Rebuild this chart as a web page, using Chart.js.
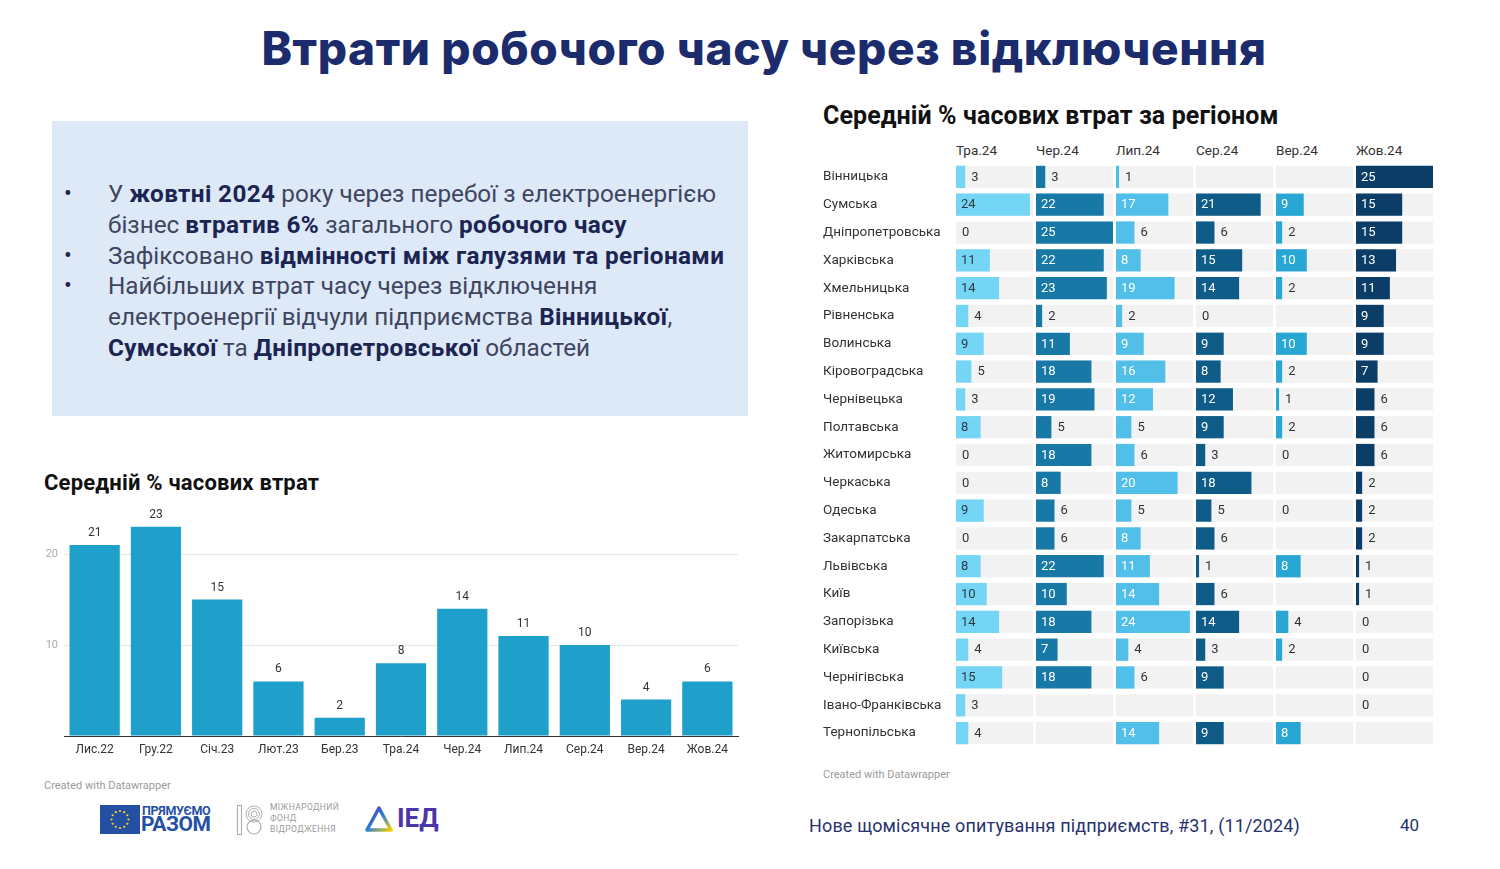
<!DOCTYPE html>
<html>
<head>
<meta charset="utf-8">
<script src="https://cdn.jsdelivr.net/npm/chart.js@4.4.1/dist/chart.umd.min.js"></script>
<style>
  html,body{margin:0;padding:0;background:#fff;}
  body{width:1500px;height:869px;position:relative;overflow:hidden;font-family:Roboto,"Noto Sans",sans-serif;}
  .abs{position:absolute;}
  #mainTitle{left:0;width:1528px;top:20px;text-align:center;font-family:Inter,"Open Sans",sans-serif;font-weight:800;font-size:46px;color:#1b2b6c;letter-spacing:0.6px;white-space:nowrap;}
  #box{left:52px;top:121px;width:696px;height:295px;background:#dde9f7;}
  .line{position:absolute;left:108px;font-size:24.3px;color:#3f4560;white-space:nowrap;line-height:31px;}
  .line b{color:#1c2452;font-weight:700;letter-spacing:0.35px;}
  .bullet{position:absolute;left:64px;font-size:23px;color:#1c2452;line-height:31px;}
  .ctitle{font-weight:700;color:#111;white-space:nowrap;}
  .mhead{position:absolute;top:142px;font-size:13.5px;color:#333;}
  .credit{font-size:11px;color:#9a9a9a;}
</style>
</head>
<body>
<div id="mainTitle" class="abs">Втрати робочого часу через відключення</div>

<div id="box" class="abs"></div>
<div class="bullet" style="top:178px">•</div>
<div class="line" style="top:178px">У <b>жовтні 2024</b> року через перебої з електроенергією</div>
<div class="line" style="top:209px">бізнес <b>втратив 6%</b> загального <b>робочого часу</b></div>
<div class="bullet" style="top:240px">•</div>
<div class="line" style="top:240px">Зафіксовано <b>відмінності між галузями та регіонами</b></div>
<div class="bullet" style="top:270px">•</div>
<div class="line" style="top:270px">Найбільших втрат часу через відключення</div>
<div class="line" style="top:301px">електроенергії відчули підприємства <b>Вінницької</b>,</div>
<div class="line" style="top:332px"><b>Сумської</b> та <b>Дніпропетровської</b> областей</div>

<div class="abs ctitle" style="left:44px;top:470px;font-size:22px;letter-spacing:0.2px;">Середній % часових втрат</div>
<div class="abs" style="left:40px;top:496px;width:705px;height:270px;"><canvas id="leftChart" width="705" height="270"></canvas></div>
<div class="abs credit" style="left:44px;top:779px;">Created with Datawrapper</div>

<div class="abs ctitle" style="left:823px;top:101px;font-size:25px;letter-spacing:0.1px;">Середній % часових втрат за регіоном</div>
<div id="heads"></div>
<div id="cols"></div>
<div class="abs credit" style="left:823px;top:768px;">Created with Datawrapper</div>

<!-- logos -->
<svg class="abs" style="left:100px;top:805px" width="40" height="29" viewBox="0 0 40 29">
  <rect x="0" y="0" width="40" height="29" fill="#2450a4"/>
  <g fill="#ffd617" id="stars"></g>
</svg>
<div class="abs" style="left:142px;top:805px;font-size:12.5px;line-height:12px;font-weight:700;color:#2450a4;letter-spacing:-0.3px;">ПРЯМУЄМО</div>
<div class="abs" style="left:141px;top:814px;font-size:21px;line-height:21px;font-weight:700;color:#2450a4;letter-spacing:-0.5px;">РАЗОМ</div>
<svg class="abs" style="left:236px;top:804px" width="28" height="32" viewBox="0 0 28 32">
  <rect x="1.5" y="1.5" width="4" height="29" fill="none" stroke="#b0b0b0" stroke-width="1.2"/>
  <circle cx="18" cy="10" r="8" fill="none" stroke="#b0b0b0" stroke-width="1"/>
  <circle cx="18" cy="10" r="5.5" fill="none" stroke="#b0b0b0" stroke-width="1"/>
  <circle cx="18" cy="10" r="3" fill="none" stroke="#b0b0b0" stroke-width="1"/>
  <circle cx="18" cy="23" r="7" fill="none" stroke="#b0b0b0" stroke-width="1.2"/>
</svg>
<div class="abs" style="left:270px;top:802px;font-size:8.5px;line-height:11px;color:#9a9a9a;letter-spacing:0.4px;">МІЖНАРОДНИЙ<br>ФОНД<br>ВІДРОДЖЕННЯ</div>
<svg class="abs" style="left:365px;top:806px" width="28" height="26" viewBox="0 0 28 26">
  <defs><linearGradient id="tg" x1="0" y1="0" x2="1" y2="1"><stop offset="0" stop-color="#5b2fb5"/><stop offset="0.5" stop-color="#2a7fd8"/><stop offset="1" stop-color="#f5d000"/></linearGradient></defs>
  <path d="M14 2 L26 24 L2 24 Z" fill="none" stroke="url(#tg)" stroke-width="3.5" stroke-linejoin="round"/>
</svg>
<div class="abs" style="left:397px;top:803px;font-size:26px;font-weight:700;color:#4a36a6;">ІЕД</div>

<div class="abs" style="left:809px;top:815px;font-size:18px;color:#28326c;white-space:nowrap;letter-spacing:0.15px;">Нове щомісячне опитування підприємств, #31, (11/2024)</div>
<div class="abs" style="left:1400px;top:815px;font-size:17px;color:#28326c;">40</div>

<script>
// ---------- DATA ----------
const monthsAll = ['Лис.22','Гру.22','Січ.23','Лют.23','Бер.23','Тра.24','Чер.24','Лип.24','Сер.24','Вер.24','Жов.24'];
const avgLoss = [21, 23, 15, 6, 2, 8, 14, 11, 10, 4, 6];
const yTicks = [0, 10, 20];

const regions = ['Вінницька','Сумська','Дніпропетровська','Харківська','Хмельницька','Рівненська','Волинська','Кіровоградська','Чернівецька','Полтавська','Житомирська','Черкаська','Одеська','Закарпатська','Львівська','Київ','Запорізька','Київська','Чернігівська','Івано-Франківська','Тернопільська'];
const regionMonths = ['Тра.24','Чер.24','Лип.24','Сер.24','Вер.24','Жов.24'];
const may24 = [3, 24, 0, 11, 14, 4, 9, 5, 3, 8, 0, 0, 9, 0, 8, 10, 14, 4, 15, 3, 4];
const jun24 = [3, 22, 25, 22, 23, 2, 11, 18, 19, 5, 18, 8, 6, 6, 22, 10, 18, 7, 18, null, null];
const jul24 = [1, 17, 6, 8, 19, 2, 9, 16, 12, 5, 6, 20, 5, 8, 11, 14, 24, 4, 6, null, 14];
const aug24 = [null, 21, 6, 15, 14, 0, 9, 8, 12, 9, 3, 18, 5, 6, 1, 6, 14, 3, 9, null, 9];
const sep24 = [null, 9, 2, 10, 2, null, 10, 2, 1, 2, 0, null, 0, null, 8, null, 4, 2, null, null, 8];
const oct24 = [25, 15, 15, 13, 11, 9, 9, 7, 6, 6, 6, 2, 2, 2, 1, 1, 0, 0, 0, 0, null];
const regionSeries = [may24, jun24, jul24, aug24, sep24, oct24];
const regionMax = 25;

// ---------- STYLE ----------
const colColors = ['#74d6f4','#1879a6','#52bfe9','#0f5c88','#28a7d5','#0c3d66'];
const colInsideText = ['#2b3a44','#ffffff','#ffffff','#ffffff','#ffffff','#ffffff'];
const colX = [956, 1036, 1116, 1196, 1276, 1356];
const colW = 77;
const labelFirstW = 133;
const rowsTop = 163, rowsH = 584;

// EU stars
(function(){
  const g = document.getElementById('stars');
  for (let i=0;i<12;i++){
    const a = i*Math.PI/6;
    const c = document.createElementNS('http://www.w3.org/2000/svg','circle');
    c.setAttribute('cx', 20+8.5*Math.cos(a)); c.setAttribute('cy', 14.5+8.5*Math.sin(a));
    c.setAttribute('r', 1.1); g.appendChild(c);
  }
})();

Chart.defaults.font.family = 'Roboto, "Noto Sans", sans-serif';

// ---------- LEFT CHART ----------
const topLabels = {
  id:'topLabels',
  afterDatasetsDraw(chart){
    const ctx = chart.ctx;
    const meta = chart.getDatasetMeta(0);
    ctx.save();
    ctx.font = '12px Roboto';
    ctx.fillStyle = '#333';
    ctx.textAlign = 'center';
    ctx.textBaseline = 'bottom';
    meta.data.forEach((bar,i)=>{
      ctx.fillText(String(chart.data.datasets[0].data[i]), bar.x, bar.y - 6);
    });
    ctx.restore();
  }
};
new Chart(document.getElementById('leftChart'), {
  type:'bar',
  data:{labels: monthsAll, datasets:[{data: avgLoss, backgroundColor:'#1ea0cb', barPercentage:0.82, categoryPercentage:1}]},
  options:{
    responsive:false, animation:false,
    layout:{padding:{top:10, right:7, left:0, bottom:0}},
    plugins:{legend:{display:false}, tooltip:{enabled:false}},
    scales:{
      x:{
        grid:{display:false},
        border:{display:true, color:'#333', width:1},
        ticks:{color:'#333', font:{size:12}, padding:-1, maxRotation:0},
        afterFit(s){ s.height = 30; }
      },
      y:{
        min:0, max:25,
        afterBuildTicks(s){ s.ticks = yTicks.map(v=>({value:v})); },
        grid:{color:(c)=> c.tick && c.tick.value===0 ? 'rgba(0,0,0,0)' : '#e6e6e6', drawTicks:false},
        border:{display:false},
        ticks:{color:'#ababab', font:{size:11}, padding:6, callback:(v)=> v===0 ? '' : v},
        afterFit(s){ s.width = 24; }
      }
    }
  },
  plugins:[topLabels]
});

// ---------- RIGHT SMALL MULTIPLES ----------
const heads = document.getElementById('heads');
const cols = document.getElementById('cols');
regionMonths.forEach((m,i)=>{
  const h = document.createElement('div');
  h.className = 'mhead'; h.style.left = colX[i]+'px'; h.textContent = m;
  heads.appendChild(h);
});

function valueLabels(ci){
  return {
    id:'valueLabels'+ci,
    afterDatasetsDraw(chart){
      const ctx = chart.ctx;
      const meta = chart.getDatasetMeta(0);
      const data = chart.data.datasets[0].data;
      const xs = chart.scales.x;
      ctx.save();
      ctx.font = '13px Roboto';
      ctx.textBaseline = 'middle';
      ctx.textAlign = 'left';
      meta.data.forEach((bar,i)=>{
        const v = data[i];
        if (v === null || v === undefined) return;
        const x0 = xs.getPixelForValue(0);
        if (v >= 7) { ctx.fillStyle = colInsideText[ci]; ctx.fillText(String(v), x0 + 5, bar.y + 0.5); }
        else { ctx.fillStyle = '#333'; ctx.fillText(String(v), bar.x + 6, bar.y + 0.5); }
      });
      ctx.restore();
    }
  };
}

regionSeries.forEach((series, ci)=>{
  const first = ci === 0;
  const left = first ? colX[0] - labelFirstW : colX[ci];
  const width = first ? colW + labelFirstW : colW;
  const wrap = document.createElement('div');
  wrap.className = 'abs';
  wrap.style.left = left+'px'; wrap.style.top = rowsTop+'px';
  wrap.style.width = width+'px'; wrap.style.height = rowsH+'px';
  const cv = document.createElement('canvas');
  cv.width = width; cv.height = rowsH;
  wrap.appendChild(cv); cols.appendChild(wrap);
  new Chart(cv, {
    type:'bar',
    data:{labels: regions, datasets:[
      {data: series, backgroundColor: colColors[ci], barPercentage:0.8, categoryPercentage:1, grouped:false, order:0},
      {data: regions.map(()=>regionMax), backgroundColor:'#f2f2f2', barPercentage:0.8, categoryPercentage:1, grouped:false, order:1}
    ]},
    options:{
      indexAxis:'y', responsive:false, animation:false,
      layout:{padding:0},
      plugins:{legend:{display:false}, tooltip:{enabled:false}},
      scales:{
        x:{display:false, min:0, max:regionMax},
        y:{
          display:true,
          grid:{display:false}, border:{display:false},
          ticks:{display:first, color:'#333', font:{size:13.5}, crossAlign:'far', padding:0},
          afterFit(s){ s.width = first ? labelFirstW : 0; s.paddingTop = 0; s.paddingBottom = 0; }
        }
      }
    },
    plugins:[valueLabels(ci)]
  });
});
</script>
</body>
</html>
